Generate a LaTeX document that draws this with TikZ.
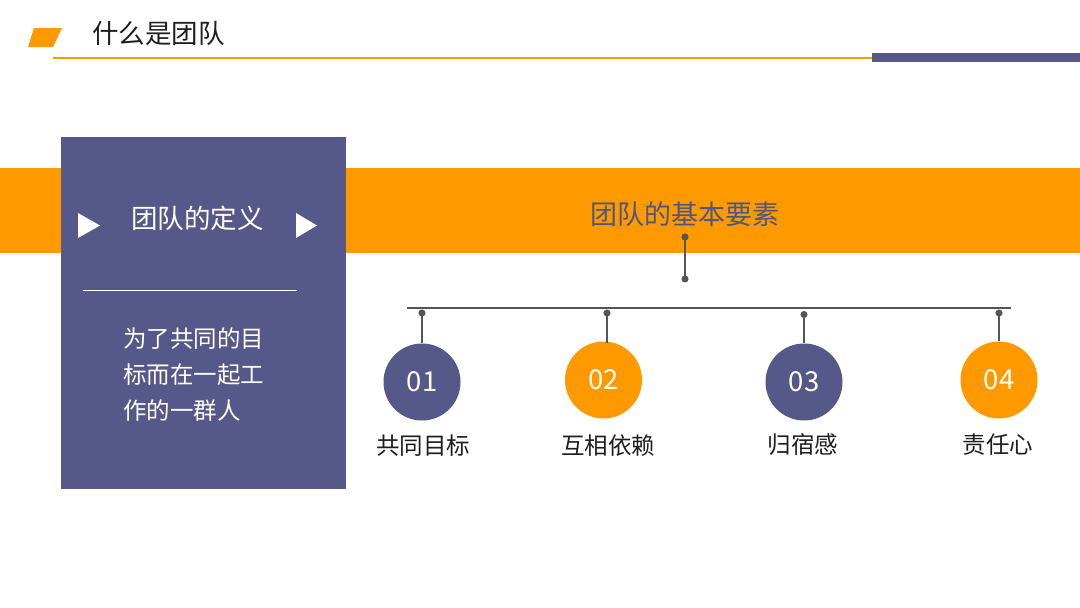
\documentclass[tikz,border=0pt]{standalone}
\usepackage{fontspec}
\setmainfont{Liberation Sans}
\newfontfamily\cjk{Noto Sans CJK SC}
\usetikzlibrary{arrows.meta}
\definecolor{org}{RGB}{255,153,0}
\definecolor{pur}{RGB}{86,88,138}
\definecolor{ttl}{RGB}{78,86,130}
\definecolor{ln}{RGB}{85,85,85}
\definecolor{txt}{RGB}{30,30,30}
\tikzset{
  numcircle/.style={circle, minimum size=77pt, inner sep=0pt, text=white, font=\cjk\fontsize{27.5}{30}\selectfont},
  itemlabel/.style={inner sep=0pt, text=txt, font=\cjk\fontsize{23.5}{26}\selectfont},
  dotline/.style={draw=ln, line width=1.3pt, {Circle[length=7pt]}-},
  dotdot/.style={draw=ln, line width=1.3pt, {Circle[length=7pt]}-{Circle[length=7pt]}},
}
\begin{document}
\begin{tikzpicture}[x=1pt,y=-1pt]
\useasboundingbox (0,0) rectangle (1080,608);
\fill[white] (0,0) rectangle (1080,608);
% header
\fill[org] (34,28) -- (62,28) -- (53,47) -- (28,47) -- cycle;
\node[anchor=west, inner sep=0pt, text=txt, font=\cjk\fontsize{26.5}{30}\selectfont] (title) at (92,33) {什么是团队};
\fill[org] (53,56.5) rectangle (872,58.7);
\fill[pur] (872,53) rectangle (1080,61.5);
% band and panel
\fill[org] (0,167.5) rectangle (1080,253);
\fill[pur] (61,137) rectangle (346,489);
\fill[white] (78,213) -- (100,225.5) -- (78,238) -- cycle;
\fill[white] (296,213) -- (317,225.5) -- (296,238) -- cycle;
\node[inner sep=0pt, text=white, font=\cjk\fontsize{26.5}{30}\selectfont] (def) at (197.5,218) {团队的定义};
\draw[white, line width=1pt] (83,290) -- (297,290);
\node[anchor=west, inner sep=0pt, align=left, text=white, font=\cjk\fontsize{23.5}{36}\selectfont] (body) at (123,375) {为了共同的目\\标而在一起工\\作的一群人};
% band title
\node[inner sep=0pt, text=ttl, font=\cjk\fontsize{27}{30}\selectfont] (band) at (685,214) {团队的基本要素};
\coordinate (t1) at (685,233.5);
\coordinate (t2) at (685,282.5);
\draw[dotdot] (t1) -- (t2);
\coordinate (hl) at (407,308);
\coordinate (hr) at (1011,308);
\draw[ln, line width=1.5pt] (hl) -- (hr);
% circles
\node[numcircle, fill=pur] (c1) at (422,382) {01};
\node[numcircle, fill=org] (c2) at (603.5,380) {02};
\node[numcircle, fill=pur] (c3) at (804,382) {03};
\node[numcircle, fill=org] (c4) at (999,380) {04};
\coordinate (d1) at (422,309.5);
\coordinate (d2) at (607,309.5);
\coordinate (d3) at (804,311);
\coordinate (d4) at (999,309.5);
\draw[dotline] (d1) -- (d1 |- c1.north);
\draw[dotline] (d2) -- ([yshift=-2pt]d2 |- c2.north);
\draw[dotline] (d3) -- (d3 |- c3.north);
\draw[dotline] (d4) -- (d4 |- c4.north);
% labels
\node[itemlabel] (l1) at (423,446) {共同目标};
\node[itemlabel] (l2) at (608,446) {互相依赖};
\node[itemlabel] (l3) at (803,445) {归宿感};
\node[itemlabel] (l4) at (998,445) {责任心};
\end{tikzpicture}
\end{document}
